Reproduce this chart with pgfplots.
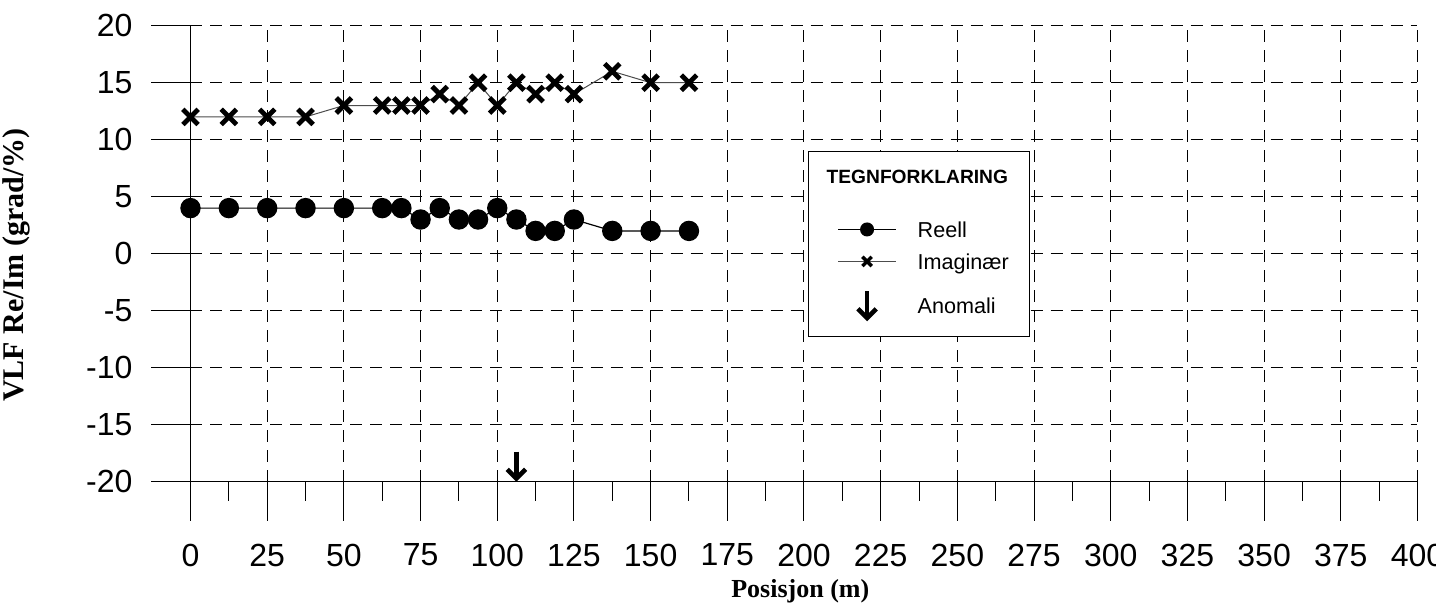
\documentclass[border=0pt]{standalone}
\usepackage{fontspec}
\setmainfont{Liberation Sans}
\newfontfamily\tnr{Liberation Serif}
\usepackage{pgfplots}
\usepackage{pgfplotstable}
\pgfplotsset{compat=1.18}
\pgfdeclareplotmark{anomarrow}{%
  \pgfsetlinewidth{2.3pt}\pgfsetbuttcap
  \pgfpathmoveto{\pgfpoint{0pt}{7.5pt}}\pgfpathlineto{\pgfpoint{0pt}{-5pt}}\pgfusepathqstroke
  \pgfsetmiterjoin
  \pgfpathmoveto{\pgfpoint{-4.6pt}{-1.4pt}}\pgfpathlineto{\pgfpoint{0pt}{-6pt}}\pgfpathlineto{\pgfpoint{4.6pt}{-1.4pt}}\pgfusepathqstroke}
\pgfplotstableread{
x re im
0 4 12
12.5 4 12
25 4 12
37.5 4 12
50 4 13
62.5 4 13
68.75 4 13
75 3 13
81.25 4 14
87.5 3 13
93.75 3 15
100 4 13
106.25 3 15
112.5 2 14
118.75 2 15
125 3 14
137.5 2 16
150 2 15
162.5 2 15
}\vlfdata
\pgfplotstableread{
x y
106.25 -20
}\anomdata
\begin{document}
\begin{tikzpicture}
\begin{axis}[
  at={(0,0)}, anchor=south west,
  scale only axis, width=613.5pt, height=228pt,
  xmin=0, xmax=400, ymin=-20, ymax=20,
  axis x line=bottom, axis y line=left,
  axis line style={-, black, line width=0.6pt},
  xtick={0,25,...,400}, ytick={-20,-15,...,20},
  minor x tick num=1,
  tick align=outside,
  major tick length=19.5pt, minor tick length=9.5pt,
  tick style={black, line width=0.5pt},
  grid=major,
  major grid style={black, line width=0.5pt, dash pattern=on 6pt off 4pt},
  /pgf/number format/assume math mode=true,
  /pgf/number format/1000 sep={},
  ticklabel style={font=\fontsize{16}{19}\selectfont},
  xticklabel style={yshift=-8pt},
  yticklabel style={xshift=-6pt},
  xlabel={Posisjon (m)},
  xlabel style={at={(axis description cs:0.497,-0.255)}, anchor=base, font=\tnr\bfseries\fontsize{13}{15}\selectfont},
  ylabel={VLF Re/Im (grad/\%)},
  ylabel style={at={(axis description cs:-0.1415,0.475)}, anchor=center, rotate=0, font=\tnr\bfseries\fontsize{15}{17}\selectfont},
  legend image code/.code={\path (-4.5pt,0pt); \draw[yshift=3.9pt, mark repeat=2,mark phase=2,#1] plot coordinates {(0pt,0pt) (14.5pt,0pt) (29pt,0pt)};},
  legend style={at={(axis cs:201.2,9.03)}, anchor=north west,
    draw=black, line width=0.5pt, fill=white,
    inner xsep=10.15pt, inner ysep=0pt,
    row sep=0pt, column sep=10.5pt,
    font=\fontsize{10.8}{12}\selectfont,
    nodes={inner sep=0pt},
    cells={anchor=base west}},
]
\addlegendimage{empty legend}
\addlegendentry[text height=15.95pt, text depth=10pt]{\hspace*{-45.5pt}{\bfseries\fontsize{9.6}{11}\selectfont TEGNFORKLARING}}
\addplot[black, line width=0.6pt, mark=*, mark size=4.8pt, mark options={fill=black, draw=black},
  legend image post style={mark size=3.2pt}] table[x=x, y=re] {\vlfdata};
\addlegendentry[text height=17.05pt, text depth=6pt]{Reell}
\addplot[black!70, line width=0.5pt, mark=x, mark size=5.4pt, mark options={black, line width=2.4pt},
  legend image post style={mark size=3.3pt, mark options={black, line width=1.7pt}}] table[x=x, y=im] {\vlfdata};
\addlegendentry[text height=10pt, text depth=10pt]{Imaginær}
\addplot[black, only marks, mark=anomarrow, mark options={yshift=7.6pt},
  legend image post style={mark options={yshift=0pt}}] table[x=x, y=y] {\anomdata};
\addlegendentry[text height=12.3pt, text depth=11.2pt]{Anomali}
\end{axis}
\pgfresetboundingbox
\useasboundingbox (-95.25pt,-65.15pt) rectangle (622.75pt,240.85pt);
\end{tikzpicture}
\end{document}
